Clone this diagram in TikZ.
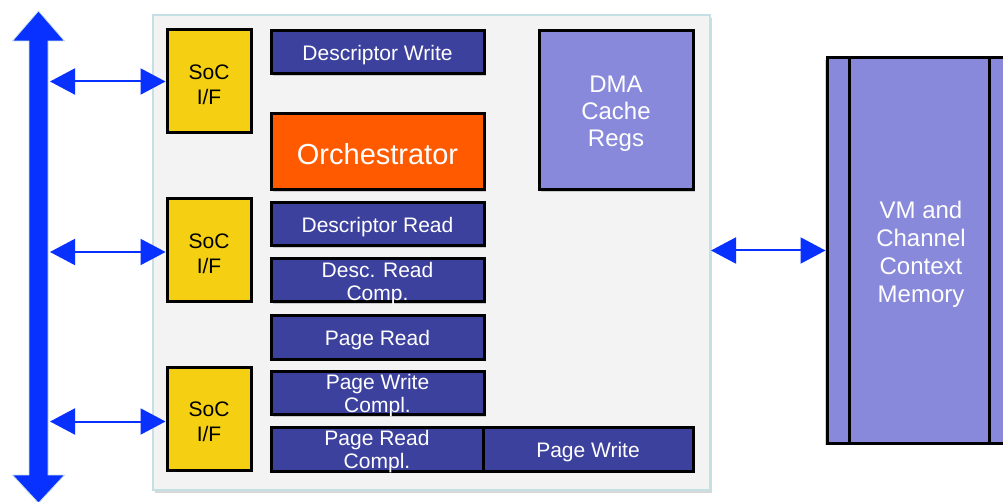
\documentclass[tikz,border=0pt]{standalone}
\usepackage{fontspec}
\setmainfont{Liberation Sans}
\usetikzlibrary{arrows.meta,shadows,calc}
\definecolor{busblue}{RGB}{8,48,255}
\definecolor{socyellow}{RGB}{245,208,18}
\definecolor{orch}{RGB}{255,90,0}
\definecolor{dkblue}{RGB}{61,65,158}
\definecolor{ltpurple}{RGB}{136,137,218}
\definecolor{contfill}{RGB}{243,243,243}
\definecolor{contedge}{RGB}{197,224,228}
\newcommand\myfs[2]{\fontsize{#1}{#2}\selectfont}
\tikzset{
  shad/.style={drop shadow={shadow xshift=1.5pt,shadow yshift=-2pt,opacity=0.35}},
  txt/.style={text=white,align=center,inner sep=0pt,yshift=-3pt},
  blk/.style={draw=black,line width=3pt,fill=dkblue,inner sep=0pt,minimum width=213pt,
    minimum height=43pt,shad,label={[txt,font=\myfs{21}{23}]center:#1}},
  soc/.style={draw=black,line width=3pt,fill=socyellow,inner sep=0pt,minimum width=84pt,
    minimum height=103pt,label={[txt,text=black,font=\myfs{21}{25}]center:#1}},
  link/.style={busblue,line width=2pt,{Triangle[length=25pt,width=26pt]}-{Triangle[length=25pt,width=26pt]}}
}
\begin{document}
\begin{tikzpicture}[x=1pt,y=-1pt]
\clip (0,0) rectangle (1003,502);
\fill[white] (0,0) rectangle (1003,502);
% container
\node[draw=contedge,line width=2pt,fill=contfill,minimum width=557pt,minimum height=475pt,
  inner sep=0pt,drop shadow={shadow xshift=2pt,shadow yshift=-3pt,opacity=0.3}] (cont) at (431.5,252.5) {};
% bus
\fill[busblue,draw=contedge,line width=0.8pt]
  (38.5,11) -- (64.5,41) -- (48,41) -- (48,475) -- (64.5,475) -- (38.5,503)
  -- (12.5,475) -- (29,475) -- (29,41) -- (12.5,41) -- cycle;
\coordinate (b1) at (50,81.5);
\coordinate (b2) at (50,252);
\coordinate (b3) at (50,421.5);
% SoC I/F
\node[soc={SoC\\I/F}] (s1) at (209,81.5) {};
\node[soc={SoC\\I/F}] (s2) at (209,250.5) {};
\node[soc={SoC\\I/F}] (s3) at (209,418.5) {};
\draw[link] (b1) -- (s1.west |- b1);
\draw[link] (b2) -- (s2.west |- b2);
\draw[link] (b3) -- (s3.west |- b3);
% blocks
\node[blk={Descriptor Write}] (dw) at (377.5,52.5) {};
\node[draw=black,line width=3pt,fill=orch,inner sep=0pt,minimum width=213pt,minimum height=76pt,shad,
  label={[txt,font=\myfs{29}{32},yshift=1pt]center:Orchestrator}] (orc) at (377.5,152) {};
\node[blk={Descriptor Read}] (dr) at (377.5,224.5) {};
\node[blk={Desc. Read\\Comp.}] (drc) at (377.5,280.5) {};
\node[blk={Page Read}] (pr) at (377.5,337.5) {};
\node[blk={Page Write\\Compl.}] (pwc) at (377.5,393) {};
\node[blk={Page Read\\Compl.},minimum width=212pt,minimum height=44pt] (prc) at (377,449) {};
\node[blk={Page Write},minimum width=210pt,minimum height=44pt] (pw) at (588,449) {};
\node[draw=black,line width=3pt,fill=ltpurple,inner sep=0pt,minimum width=154pt,minimum height=159pt,shad,
  label={[txt,font=\myfs{24}{27}]center:DMA\\Cache\\Regs}] (dma) at (616,110.5) {};
% VM memory
\node[draw=black,line width=3pt,fill=ltpurple,minimum width=188pt,minimum height=385pt,inner sep=0pt,
  drop shadow={shadow xshift=-2pt,shadow yshift=-2pt,opacity=0.35},
  label={[txt,font=\myfs{24}{28},yshift=-1pt]center:VM and\\Channel\\Context\\Memory}] (vm) at (921,250.5) {};
\draw[black,line width=3pt] ($(vm.north west)+(24,0)$) -- ($(vm.south west)+(24,0)$);
\draw[black,line width=3pt] ($(vm.north west)+(164,0)$) -- ($(vm.south west)+(164,0)$);
\draw[link] (cont.east |- vm.west) -- (vm.west);
\end{tikzpicture}
\end{document}
